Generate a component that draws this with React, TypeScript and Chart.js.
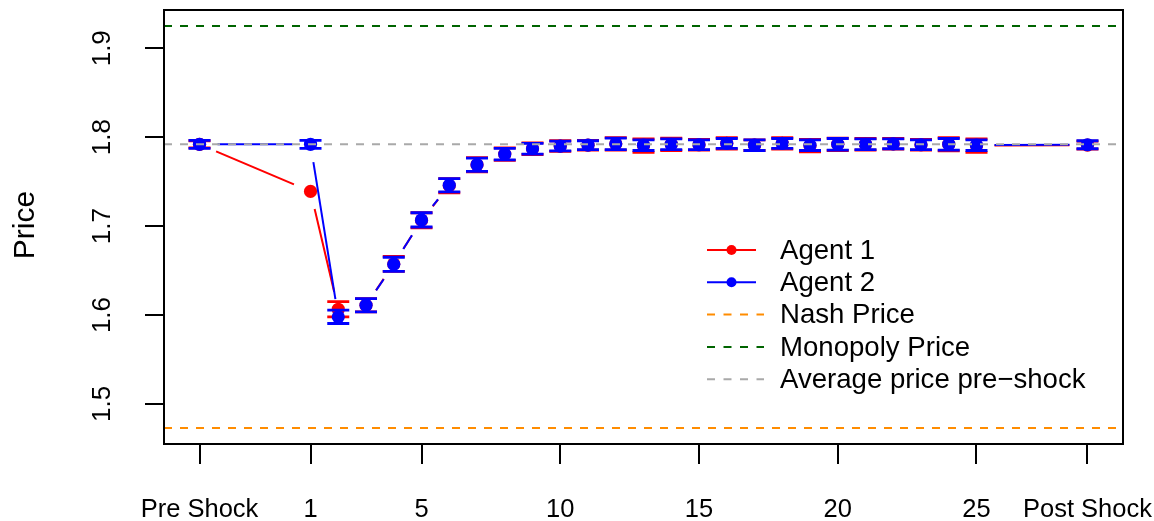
import React, { useEffect, useRef } from "react";
import { Chart, registerables } from "chart.js";

Chart.register(...registerables);

// ---------------- data ----------------
const periods = [-3, 1, 2, 3, 4, 5, 6, 7, 8, 9, 10, 11, 12, 13, 14, 15, 16, 17, 18, 19, 20, 21, 22, 23, 24, 25, 29];

const agent1Price = [
  1.792, 1.739, 1.6065, 1.611, 1.6575, 1.7065, 1.7455, 1.769, 1.781, 1.787, 1.79, 1.791, 1.7925, 1.7905,
  1.792, 1.7915, 1.793, 1.791, 1.793, 1.7905, 1.792, 1.792, 1.7925, 1.7915, 1.792, 1.7905, 1.791,
];
const agent1Err = [
  0.004, 0, 0.0085, 0.0075, 0.0085, 0.0085, 0.008, 0.008, 0.007, 0.0065, 0.006, 0.0055, 0.007, 0.0075,
  0.007, 0.006, 0.0065, 0.006, 0.0065, 0.007, 0.007, 0.0065, 0.006, 0.006, 0.0075, 0.0075, 0.0045,
];

const agent2Price = [
  1.792, 1.792, 1.598, 1.611, 1.657, 1.707, 1.746, 1.769, 1.781, 1.787, 1.79, 1.791, 1.7925, 1.791,
  1.792, 1.7915, 1.793, 1.791, 1.793, 1.791, 1.792, 1.792, 1.7925, 1.7915, 1.792, 1.791, 1.7915,
];
const agent2Err = [
  0.0045, 0.0045, 0.0075, 0.0075, 0.008, 0.008, 0.0075, 0.0075, 0.0065, 0.006, 0.0055, 0.005, 0.0065, 0.006,
  0.006, 0.0055, 0.0055, 0.006, 0.0055, 0.006, 0.0065, 0.006, 0.0055, 0.0055, 0.0065, 0.006, 0.0045,
];

const xTickValues = [-3, 1, 5, 10, 15, 20, 25, 29];
const xTickLabels = ["Pre Shock", "1", "5", "10", "15", "20", "25", "Post Shock"];
const yTickValues = [1.5, 1.6, 1.7, 1.8, 1.9];

const nashPrice = 1.473;
const monopolyPrice = 1.925;
const avgPrePrice = 1.792;

const legendLabels = ["Agent 1", "Agent 2", "Nash Price", "Monopoly Price", "Average price pre\u2212shock"];

// ---------------- styles ----------------
const FONT = "'Liberation Sans', Arial, Helvetica, sans-serif";
const RED = "#FF0000";
const BLUE = "#0000FF";
const ORANGE = "#FF8C00";
const GREEN = "#006400";
const GRAY = "#A9A9A9";

const seriesErr = [agent1Err, agent2Err];

const customDraw = {
  id: "customDraw",
  beforeDatasetDraw(chart: any, args: any) {
    const ctx = chart.ctx;
    const xs = chart.scales.x;
    const ys = chart.scales.y;
    const ds = chart.data.datasets[args.index];
    const errs = seriesErr[args.index];
    const color = ds.borderColor;
    const pts = ds.data.map((d: any) => ({ x: xs.getPixelForValue(d.x), y: ys.getPixelForValue(d.y) }));
    ctx.save();
    // lines with gaps around points (type = "b")
    const gap = 18;
    ctx.strokeStyle = color;
    ctx.lineWidth = 2;
    for (let i = 0; i < pts.length - 1; i++) {
      const a = pts[i];
      const b = pts[i + 1];
      const dx = b.x - a.x;
      const dy = b.y - a.y;
      const L = Math.hypot(dx, dy);
      if (L <= 2 * gap) continue;
      const ux = dx / L;
      const uy = dy / L;
      ctx.beginPath();
      ctx.moveTo(a.x + ux * gap, a.y + uy * gap);
      ctx.lineTo(b.x - ux * gap, b.y - uy * gap);
      ctx.stroke();
    }
    // error bars
    ctx.lineWidth = 2.8;
    const cap = 11;
    ds.data.forEach((d: any, i: number) => {
      const e = errs[i];
      if (!e) return;
      const px = xs.getPixelForValue(d.x);
      const top = ys.getPixelForValue(d.y + e);
      const bot = ys.getPixelForValue(d.y - e);
      ctx.beginPath();
      ctx.moveTo(px, top);
      ctx.lineTo(px, bot);
      ctx.moveTo(px - cap, top);
      ctx.lineTo(px + cap, top);
      ctx.moveTo(px - cap, bot);
      ctx.lineTo(px + cap, bot);
      ctx.stroke();
    });
    ctx.restore();
  },
  afterDatasetsDraw(chart: any) {
    const ctx = chart.ctx;
    const ca = chart.chartArea;
    const ys = chart.scales.y;
    ctx.save();
    // reference lines
    const refs = [
      { v: nashPrice, c: ORANGE },
      { v: monopolyPrice, c: GREEN },
      { v: avgPrePrice, c: GRAY },
    ];
    ctx.lineWidth = 2;
    ctx.setLineDash([8, 8]);
    refs.forEach((r) => {
      const y = ys.getPixelForValue(r.v);
      ctx.strokeStyle = r.c;
      ctx.beginPath();
      ctx.moveTo(ca.left, y);
      ctx.lineTo(ca.right, y);
      ctx.stroke();
    });
    ctx.setLineDash([]);
    // box
    ctx.strokeStyle = "#000";
    ctx.lineWidth = 2;
    ctx.strokeRect(ca.left, ca.top, ca.right - ca.left, ca.bottom - ca.top);
    // y tick labels (rotated, R style)
    ctx.fillStyle = "#000";
    ctx.font = `26px ${FONT}`;
    ctx.textAlign = "center";
    ctx.textBaseline = "middle";
    ys.ticks.forEach((t: any) => {
      const y = ys.getPixelForValue(t.value);
      ctx.save();
      ctx.translate(ca.left - 61, y);
      ctx.rotate(-Math.PI / 2);
      ctx.fillText(Number(t.value).toFixed(1), 0, 0);
      ctx.restore();
    });
    // y axis title
    ctx.save();
    ctx.font = `30px ${FONT}`;
    ctx.translate(26, (ca.top + ca.bottom) / 2 - 2);
    ctx.rotate(-Math.PI / 2);
    ctx.fillText("Price", 0, 0);
    ctx.restore();
    // legend
    const lx0 = ca.left + 543;
    const lx1 = ca.left + 592;
    const tx = ca.left + 616;
    const rowY0 = ca.top + 240;
    const rowH = 32.3;
    const kinds = [
      { c: RED, dot: true },
      { c: BLUE, dot: true },
      { c: ORANGE, dot: false },
      { c: GREEN, dot: false },
      { c: GRAY, dot: false },
    ];
    ctx.font = `27.6px ${FONT}`;
    ctx.textAlign = "left";
    kinds.forEach((k, i) => {
      const y = rowY0 + i * rowH;
      ctx.strokeStyle = k.c;
      ctx.lineWidth = 2;
      if (k.dot) {
        ctx.setLineDash([]);
      } else {
        ctx.setLineDash([8, 8.5]);
      }
      ctx.beginPath();
      ctx.moveTo(lx0, y);
      ctx.lineTo(lx1 + (k.dot ? 0 : 8), y);
      ctx.stroke();
      ctx.setLineDash([]);
      if (k.dot) {
        ctx.fillStyle = k.c;
        ctx.beginPath();
        ctx.arc((lx0 + lx1) / 2, y, 5, 0, Math.PI * 2);
        ctx.fill();
      }
      ctx.fillStyle = "#000";
      ctx.fillText(legendLabels[i], tx, y + 1);
    });
    ctx.restore();
  },
};

export default function App() {
  const canvasRef = useRef<HTMLCanvasElement | null>(null);

  useEffect(() => {
    if (!canvasRef.current) return;
    const chart = new Chart(canvasRef.current, {
      type: "scatter",
      data: {
        datasets: [
          {
            label: legendLabels[0],
            data: periods.map((x, i) => ({ x, y: agent1Price[i] })),
            borderColor: RED,
            backgroundColor: RED,
            pointRadius: 6.6,
            pointBorderWidth: 0,
            pointHoverRadius: 6.6,
            showLine: false,
            order: 2,
          },
          {
            label: legendLabels[1],
            data: periods.map((x, i) => ({ x, y: agent2Price[i] })),
            borderColor: BLUE,
            backgroundColor: BLUE,
            pointRadius: 6.6,
            pointBorderWidth: 0,
            pointHoverRadius: 6.6,
            showLine: false,
            order: 1,
          },
        ],
      },
      options: {
        animation: false,
        responsive: true,
        maintainAspectRatio: false,
        layout: { padding: { top: 10, right: 31, left: 0, bottom: 0 } },
        plugins: { legend: { display: false }, tooltip: { enabled: false } },
        scales: {
          x: {
            type: "linear",
            min: -4.28,
            max: 30.28,
            afterBuildTicks: (s: any) => {
              s.ticks = xTickValues.map((v) => ({ value: v }));
            },
            afterFit: (s: any) => {
              s.height = 77;
              s.paddingLeft = 0;
              s.paddingRight = 0;
            },
            ticks: {
              autoSkip: false,
              minRotation: 0,
              maxRotation: 0,
              padding: 31,
              color: "#000",
              font: { family: FONT, size: 25.5 },
              callback: (v: any) => {
                const i = xTickValues.indexOf(Number(v));
                return i >= 0 ? xTickLabels[i] : "";
              },
            },
            grid: { drawOnChartArea: false, drawTicks: true, tickLength: 20, color: "#000", lineWidth: 2 },
            border: { display: false },
          },
          y: {
            type: "linear",
            min: 1.455,
            max: 1.943,
            afterBuildTicks: (s: any) => {
              s.ticks = yTickValues.map((v) => ({ value: v }));
            },
            afterFit: (s: any) => {
              s.width = 164;
              s.paddingTop = 0;
              s.paddingBottom = 0;
            },
            ticks: { display: false },
            grid: { drawOnChartArea: false, drawTicks: true, tickLength: 19, color: "#000", lineWidth: 2 },
            border: { display: false },
          },
        },
      },
      plugins: [customDraw],
    });
    return () => chart.destroy();
  }, []);

  return (
    <div style={{ position: "fixed", left: 0, top: 0, width: "1154px", height: "521px", background: "#fff" }}>
      <canvas ref={canvasRef} />
    </div>
  );
}
